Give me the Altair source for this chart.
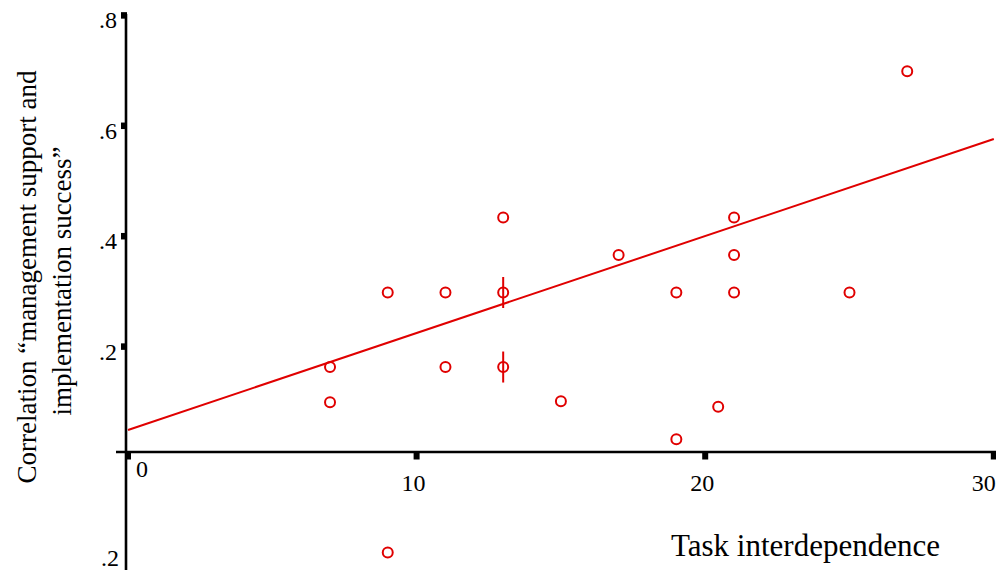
import altair as alt
import pandas as pd

# ---- data ----
x_vals = [7, 7, 9, 9, 11, 11, 13, 13, 13, 15, 17, 19, 19, 20.45, 21, 21, 21, 25, 27]
y_vals = [0.163, 0.099, 0.298, -0.173, 0.298, 0.163, 0.434, 0.298, 0.163, 0.101,
          0.366, 0.298, 0.032, 0.091, 0.434, 0.366, 0.298, 0.298, 0.699]
n_obs = [1, 1, 1, 1, 1, 1, 1, 2, 2, 1, 1, 1, 1, 1, 1, 1, 1, 1, 1]

fit_x = [0, 30]
fit_y = [0.049, 0.576]

x_ticks = [0, 10, 20, 30]
x_tick_labels = ["0", "10", "20", "30"]
y_ticks = [0.8, 0.6, 0.4, 0.2]
y_tick_labels = [".8", ".6", ".4", ".2"]
y_low_tick = [-0.2]
y_low_label = [".2"]

x_title = "Task interdependence"
y_title_lines = ["Correlation \u201cmanagement support and", "implementation success\u201d"]

RED = "#e00000"
FONT = "Liberation Serif"

points = pd.DataFrame({"x": x_vals, "y": y_vals, "n": n_obs})
fit = pd.DataFrame({"x": fit_x, "y": fit_y})
xt = pd.DataFrame({"v": x_ticks, "t": x_tick_labels})
yt = pd.DataFrame({"v": y_ticks, "t": y_tick_labels})
ylow = pd.DataFrame({"v": y_low_tick, "t": y_low_label})
one = pd.DataFrame({"a": [0]})

W, H = 988, 562
xs = alt.Scale(domain=[-4.158, 30.076], nice=False, zero=False)
ys = alt.Scale(domain=[-0.2047, 0.8134], nice=False, zero=False)

def X(f):
    return alt.X(f, type="quantitative", scale=xs, axis=None)

def Y(f):
    return alt.Y(f, type="quantitative", scale=ys, axis=None)

x_axis = alt.Chart(one).mark_rule(color="black", strokeWidth=2.6).encode(
    x=alt.value(108), x2=alt.value(W), y=alt.value(444))
y_axis = alt.Chart(one).mark_rule(color="black", strokeWidth=2.6).encode(
    x=alt.value(118), y=alt.value(6), y2=alt.value(H))

y_tick_marks = alt.Chart(yt).mark_rule(color="black", strokeWidth=6.5).encode(
    x=alt.value(113), x2=alt.value(119), y=Y("v"))
x_tick_marks = alt.Chart(xt).mark_rule(color="black", strokeWidth=6).encode(
    x=X("v"), y=alt.value(444), y2=alt.value(451.5))

y_labels = alt.Chart(yt).mark_text(align="right", baseline="alphabetic", dy=13,
                                   font=FONT, fontSize=24, color="black").encode(
    x=alt.value(109), y=Y("v"), text="t:N")
y_low_labels = alt.Chart(ylow).mark_text(align="right", baseline="alphabetic", dy=-1.5,
                                         font=FONT, fontSize=24, color="black").encode(
    x=alt.value(111), y=Y("v"), text="t:N")

x_labels = alt.Chart(xt).transform_filter("datum.v > 0 && datum.v < 30").mark_text(
    align="center", baseline="alphabetic", dx=-3, font=FONT, fontSize=24, color="black").encode(
    x=X("v"), y=alt.value(483), text="t:N")
x_last_label = alt.Chart(xt).transform_filter("datum.v == 30").mark_text(
    align="right", baseline="alphabetic", dx=2, font=FONT, fontSize=24, color="black").encode(
    x=X("v"), y=alt.value(483), text="t:N")
x_zero_label = alt.Chart(xt).transform_filter("datum.v == 0").mark_text(
    align="center", baseline="alphabetic", dx=14, font=FONT, fontSize=24, color="black").encode(
    x=X("v"), y=alt.value(468.7), text="t:N")

fit_line = alt.Chart(fit).mark_line(color=RED, strokeWidth=2).encode(x=X("x"), y=Y("y"))

circles = alt.Chart(points).mark_point(shape="circle", filled=False, size=100,
                                       strokeWidth=2, color=RED, opacity=1).encode(
    x=X("x"), y=Y("y"))
dups = alt.Chart(points).transform_filter("datum.n > 1").mark_point(
    shape="M0,-1L0,1", filled=False, size=961, strokeWidth=2, color=RED, opacity=1).encode(
    x=X("x"), y=Y("y"))

xt_df = pd.DataFrame({"t": [x_title]})
x_title_mark = alt.Chart(xt_df).mark_text(align="left", baseline="alphabetic",
                                          font=FONT, fontSize=31, color="black").encode(
    x=alt.value(663), y=alt.value(548), text="t:N")

yt1 = pd.DataFrame({"t": [y_title_lines[0]]})
yt2 = pd.DataFrame({"t": [y_title_lines[1]]})
y_title1 = alt.Chart(yt1).mark_text(align="center", baseline="alphabetic", angle=270,
                                    font=FONT, fontSize=27, color="black").encode(
    x=alt.value(28), y=alt.value(269), text="t:N")
y_title2 = alt.Chart(yt2).mark_text(align="center", baseline="alphabetic", angle=270,
                                    font=FONT, fontSize=27, color="black").encode(
    x=alt.value(63), y=alt.value(273), text="t:N")

chart = alt.layer(
    fit_line, circles, dups,
    x_axis, y_axis, y_tick_marks, x_tick_marks,
    y_labels, y_low_labels, x_labels, x_last_label, x_zero_label,
    x_title_mark, y_title1, y_title2,
).properties(
    width=W, height=H, padding=0,
    autosize=alt.AutoSizeParams(type="none"),
    background="white",
).configure_view(stroke=None)

chart.save("out.html", embed_options={"renderer": "svg", "actions": False})
